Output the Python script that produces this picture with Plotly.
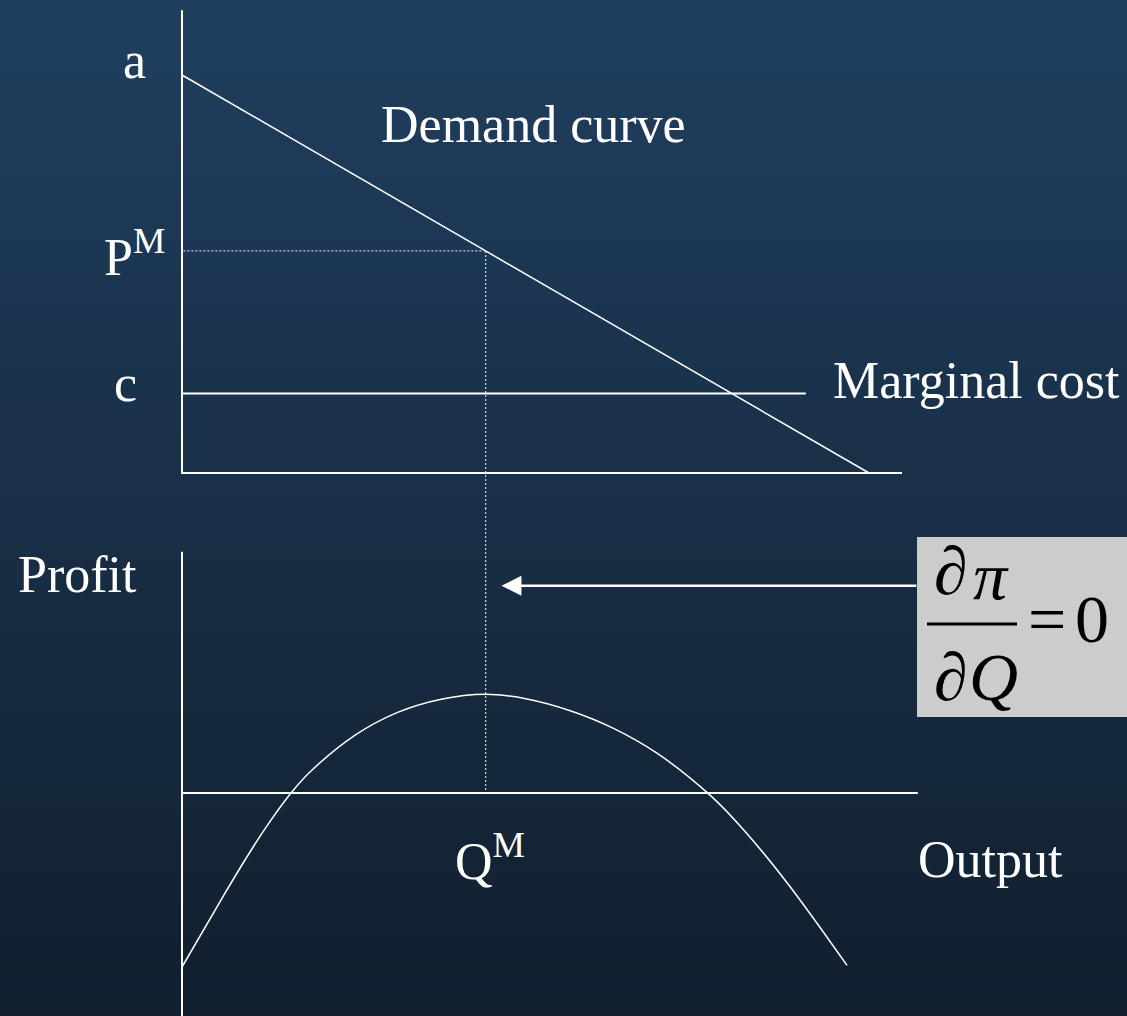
import plotly.graph_objects as go

# ---------------- data ----------------
A_INTERCEPT = 10.0          # demand intercept "a"
Q_INTERCEPT = 10.0          # demand hits zero at this output
MC = 2.0                    # marginal cost "c"
QM = 4.42                   # monopoly output
PM = A_INTERCEPT - A_INTERCEPT / Q_INTERCEPT * QM   # monopoly price

demand_q = [0.0, Q_INTERCEPT]
demand_p = [A_INTERCEPT, 0.0]

mc_q = [0.0, 9.08]
mc_p = [MC, MC]

top_axis_q = [0.0, 0.0, 10.48]
top_axis_p = [11.63, 0.0, 0.0]

profit_q = [0.0, 0.597, 0.917, 1.237, 1.587, 1.863, 2.504, 3.130, 3.755, 4.42,
            5.022, 5.662, 6.288, 6.914, 7.69, 8.180, 8.821, 9.68]
profit_v = [-4.35, -2.59, -1.675, -0.82, 0.0, 0.525, 1.43, 2.01, 2.34, 2.47,
            2.35, 2.05, 1.61, 0.995, -0.06, -0.93, -2.275, -4.31]

profit_axis_q = [0.0, 10.71]
profit_axis_v = [0.0, 0.0]
profit_vaxis_top = 6.03

arrow_from_q = 10.71
arrow_to_q = 4.65
arrow_level = 5.18

# ---------------- layout helpers ----------------
W, H = 1127, 1016
X0PX, XSCALE = 182.0, 68.7      # px of Q=0, px per unit
TOP_ZERO_PX, TOP_SCALE = 473.0, 39.8
BOT_ZERO_PX, BOT_SCALE = 793.0, 40.0
SPLIT_PX = 508.0

x_range = [-X0PX / XSCALE, (W - X0PX) / XSCALE]
top_range = [(TOP_ZERO_PX - SPLIT_PX) / TOP_SCALE, TOP_ZERO_PX / TOP_SCALE]
bot_range = [(BOT_ZERO_PX - H) / BOT_SCALE, (BOT_ZERO_PX - SPLIT_PX) / BOT_SCALE]


def xp(px):
    return px / W


def yp(py):
    return 1 - py / H


WHITE = "#ffffff"
DOT = "#c9d2dc"
SERIF = "Liberation Serif"

fig = go.Figure()

# background gradient (bands)
top_c = (32, 63, 95)
bot_c = (17, 31, 46)
N = 80
for i in range(N):
    t = (i + 0.5) / N
    c = tuple(round(top_c[k] + (bot_c[k] - top_c[k]) * t) for k in range(3))
    fig.add_shape(type="rect", xref="paper", yref="paper",
                  x0=0, x1=1, y0=1 - i / N, y1=1 - (i + 1) / N - 0.002,
                  fillcolor="rgb(%d,%d,%d)" % c, line_width=0, layer="below")

# top panel
fig.add_trace(go.Scatter(x=top_axis_q, y=top_axis_p, mode="lines",
                         line=dict(color=WHITE, width=2), xaxis="x", yaxis="y"))
fig.add_trace(go.Scatter(x=demand_q, y=demand_p, mode="lines",
                         line=dict(color=WHITE, width=1.5), xaxis="x", yaxis="y"))
fig.add_trace(go.Scatter(x=mc_q, y=mc_p, mode="lines",
                         line=dict(color=WHITE, width=2), xaxis="x", yaxis="y"))
fig.add_trace(go.Scatter(x=[0.02, QM], y=[PM, PM], mode="lines",
                         line=dict(color=DOT, width=1.2, dash="2px,2px"), xaxis="x", yaxis="y"))
fig.add_trace(go.Scatter(x=[QM, QM], y=[PM, top_range[0]], mode="lines",
                         line=dict(color=DOT, width=1.2, dash="2px,2px"), xaxis="x", yaxis="y"))

# bottom panel
fig.add_trace(go.Scatter(x=[QM, QM], y=[bot_range[1], 0], mode="lines",
                         line=dict(color=DOT, width=1.2, dash="2px,2px"), xaxis="x2", yaxis="y2"))
fig.add_trace(go.Scatter(x=[0, 0], y=[profit_vaxis_top, bot_range[0]], mode="lines",
                         line=dict(color=WHITE, width=2), xaxis="x2", yaxis="y2"))
fig.add_trace(go.Scatter(x=profit_axis_q, y=profit_axis_v, mode="lines",
                         line=dict(color=WHITE, width=2), xaxis="x2", yaxis="y2"))
fig.add_trace(go.Scatter(x=profit_q, y=profit_v, mode="lines",
                         line=dict(color=WHITE, width=1.5, shape="spline", smoothing=1.0),
                         xaxis="x2", yaxis="y2"))

# arrow
fig.add_annotation(x=arrow_to_q, y=arrow_level, ax=arrow_from_q, ay=arrow_level,
                   xref="x2", yref="y2", axref="x2", ayref="y2", text="",
                   showarrow=True, arrowhead=2, arrowsize=1.6, arrowwidth=2.5,
                   arrowcolor=WHITE, standoff=0, startstandoff=0)

# formula box
fig.add_shape(type="rect", xref="paper", yref="paper",
              x0=xp(917), x1=xp(1127), y0=yp(537), y1=yp(717),
              fillcolor="#cccccc", line_width=0, layer="above")
fig.add_shape(type="line", xref="paper", yref="paper",
              x0=xp(927), x1=xp(1017), y0=yp(624), y1=yp(624),
              line=dict(color="#000000", width=3), layer="above")


def label(text, cx, cy, size=52, color=WHITE, font=SERIF):
    fig.add_annotation(x=xp(cx), y=yp(cy), xref="paper", yref="paper",
                       text=text, showarrow=False, xanchor="center", yanchor="middle",
                       font=dict(family=font, size=size, color=color))


label("a", 134, 60)
label("Demand curve", 533, 124)
label("P<sup>M</sup>", 134, 253)
label("c", 125, 383)
label("Marginal cost", 976, 380)
label("Profit", 77, 574)
label("Q<sup>M</sup>", 490, 857)
label("Output", 990, 859)

BLACK = "#000000"
label("\u2202", 951, 571, size=68, color=BLACK)
label("<i>\u03c0</i>", 991, 576, size=68, color=BLACK)
label("\u2202", 951, 677, size=68, color=BLACK)
label("<i>Q</i>", 993, 677, size=68, color=BLACK)
label("=", 1047, 619, size=68, color=BLACK)
label("0", 1092, 619, size=68, color=BLACK)

ax_common = dict(visible=False, showgrid=False, zeroline=False, fixedrange=True)
fig.update_layout(
    width=W, height=H,
    margin=dict(l=0, r=0, t=0, b=0),
    paper_bgcolor="#19304a",
    plot_bgcolor="rgba(0,0,0,0)",
    showlegend=False,
    xaxis=dict(domain=[0, 1], range=x_range, anchor="y", **ax_common),
    yaxis=dict(domain=[1 - SPLIT_PX / H, 1], range=top_range, anchor="x", **ax_common),
    xaxis2=dict(domain=[0, 1], range=x_range, anchor="y2", **ax_common),
    yaxis2=dict(domain=[0, 1 - SPLIT_PX / H], range=bot_range, anchor="x2", **ax_common),
)

fig.write_html("out.html", config={"displayModeBar": False},
               post_script="document.body.style.margin='0';document.body.style.padding='0';"
                           "document.body.style.overflow='hidden';")
